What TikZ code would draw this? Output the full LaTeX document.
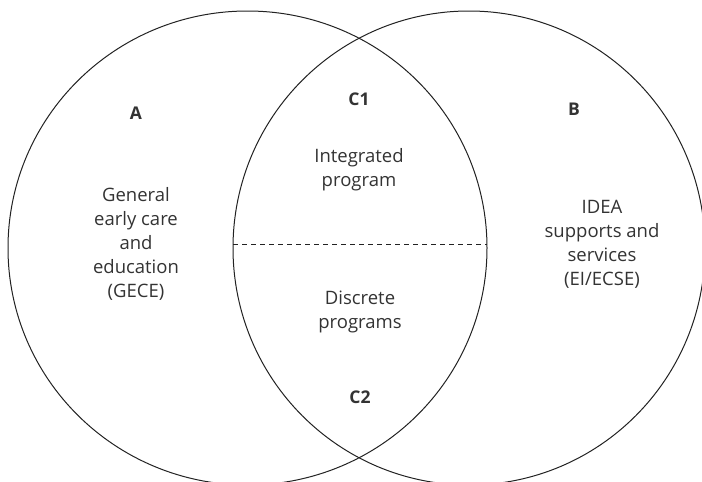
\documentclass[tikz,border=0pt]{standalone}
\usepackage{fontspec}
\setmainfont{Open Sans}
\definecolor{txt}{HTML}{333333}
\definecolor{ln}{HTML}{222222}
\tikzset{
  venn/.style={draw=ln, line width=1.0pt},
  lbl/.style={text=txt, align=center, font=\fontsize{18.5}{24}\selectfont, inner sep=0pt},
  tag/.style={text=txt, font=\fontsize{17.5}{20}\selectfont\bfseries, inner sep=0pt}
}
\begin{document}
\begin{tikzpicture}[x=1pt,y=-1pt]
\useasboundingbox (0,0) rectangle (702,482);
\clip (0,0) rectangle (702,482);
\draw[venn] (247.5,248) ellipse [x radius=239.5, y radius=237];
\draw[venn] (469,248) ellipse [x radius=236, y radius=237];
\coordinate (dl) at (233,244);
\coordinate (dr) at (487,244);
\draw[ln, line width=0.9pt, dash pattern=on 5pt off 4pt] (dl) -- (dr);
\node[tag] (a) at (136,113) {A};
\node[tag] (b) at (574,109) {B};
\node[tag] (c1) at (359,99) {C1};
\node[tag] (c2) at (360,397) {C2};
\node[lbl] (gece) at (136,244) {General\\early care\\and\\education\\(GECE)};
\node[lbl] (integ) at (359,170) {Integrated\\program};
\node[lbl] (disc) at (360,312) {Discrete\\programs};
\node[lbl] (idea) at (602,244) {IDEA\\supports and\\services\\(EI/ECSE)};
\end{tikzpicture}
\end{document}
